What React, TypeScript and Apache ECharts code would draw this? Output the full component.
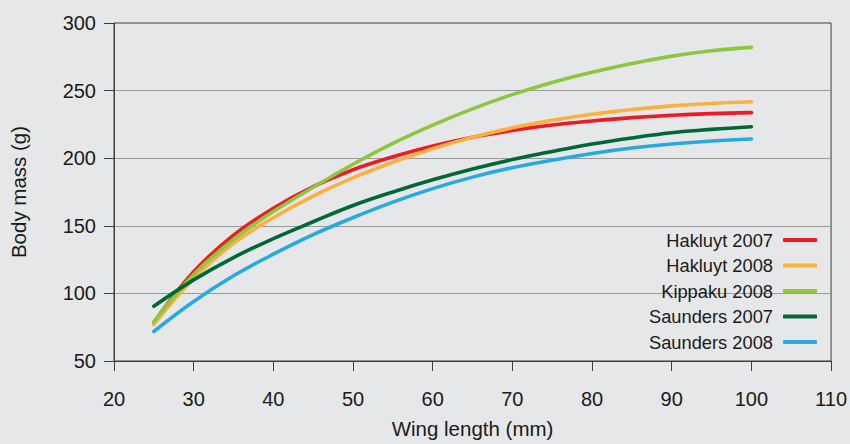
import React, { useEffect, useRef } from "react";
import * as echarts from "echarts";

const wingLength = [25, 30, 35, 40, 45, 50, 55, 60, 65, 70, 75, 80, 85, 90, 95, 100];
const hakluyt2007 = [78.5, 116, 143, 163, 179, 191.5, 201, 209, 215.5, 220.5, 224.5, 227.5, 230, 231.8, 233, 233.7];
const hakluyt2008 = [77, 111, 137, 156, 172, 185.5, 197, 207, 215.5, 222.5, 228, 232.5, 236, 238.7, 240.5, 241.7];
const kippaku2008 = [79, 114, 140, 160.5, 178.5, 195.5, 211, 224.5, 236.5, 247, 256, 263.5, 270, 275.5, 279.5, 282];
const saunders2007 = [90.5, 110, 126.5, 140.5, 153, 165, 175, 184, 192, 199, 205, 210.5, 215, 218.8, 221.3, 223.3];
const saunders2008 = [71.8, 94, 113, 129, 143.5, 156, 167.5, 177.5, 186, 193, 198.5, 203.5, 207.5, 210.5, 212.7, 214.2];

const seriesNames = ["Hakluyt 2007", "Hakluyt 2008", "Kippaku 2008", "Saunders 2007", "Saunders 2008"];
const seriesValues = [hakluyt2007, hakluyt2008, kippaku2008, saunders2007, saunders2008];
const seriesColors = ["#ed1c24", "#fbb040", "#8dc63f", "#006838", "#27aae1"];

const FONT = "'Liberation Sans', Arial, Helvetica, sans-serif";
const TEXT = "#1a1a1a";

export default function App() {
  const ref = useRef<HTMLDivElement>(null);
  useEffect(() => {
    if (!ref.current) return;
    const chart = echarts.init(ref.current, undefined, { renderer: "svg" });
    chart.setOption({
      animation: false,
      backgroundColor: "#e6e7e8",
      textStyle: { fontFamily: FONT },
      grid: {
        left: 114,
        right: 18,
        top: 23,
        bottom: 80,
        show: true,
        borderColor: "#3c3c3c",
        borderWidth: 1,
        backgroundColor: "transparent",
      },
      legend: {
        orient: "vertical",
        right: 28,
        top: 225,
        align: "right",
        icon: "roundRect",
        itemWidth: 34,
        itemHeight: 4,
        itemGap: 5.5,
        textStyle: { fontSize: 18.3, color: TEXT, fontFamily: FONT, lineHeight: 20, padding: [0, 5, 0, 0] },
        data: seriesNames,
      },
      xAxis: {
        type: "value",
        min: 20,
        max: 110,
        interval: 10,
        name: "Wing length (mm)",
        nameLocation: "middle",
        nameGap: 57,
        nameTextStyle: { fontSize: 20.5, color: TEXT, fontFamily: FONT },
        axisLine: { show: true, lineStyle: { color: "#3c3c3c", width: 1 } },
        axisTick: { show: true, length: 10, lineStyle: { color: "#3c3c3c" } },
        axisLabel: { fontSize: 20, color: TEXT, margin: 28, fontFamily: FONT },
        splitLine: { show: false },
      },
      yAxis: {
        type: "value",
        min: 50,
        max: 300,
        interval: 50,
        name: "Body mass (g)",
        nameLocation: "middle",
        nameGap: 85,
        nameTextStyle: { fontSize: 20.5, color: TEXT, fontFamily: FONT },
        axisLine: { show: true, lineStyle: { color: "#3c3c3c", width: 1 } },
        axisTick: { show: true, length: 10, lineStyle: { color: "#3c3c3c" } },
        axisLabel: { fontSize: 20, color: TEXT, margin: 18, fontFamily: FONT },
        splitLine: { show: true, showMinLine: false, showMaxLine: false, lineStyle: { color: "#9a9a9a", width: 1 } },
      },
      series: seriesNames.map((name, i) => ({
        name,
        type: "line",
        smooth: 0.4,
        showSymbol: false,
        symbol: "none",
        color: seriesColors[i],
        lineStyle: { width: 3.6, color: seriesColors[i], cap: "round", join: "round" },
        data: wingLength.map((x, j) => [x, seriesValues[i][j]]),
      })),
    });
    return () => chart.dispose();
  }, []);
  return <div ref={ref} style={{ width: 850, height: 444, position: "absolute", left: 0, top: 0 }} />;
}
